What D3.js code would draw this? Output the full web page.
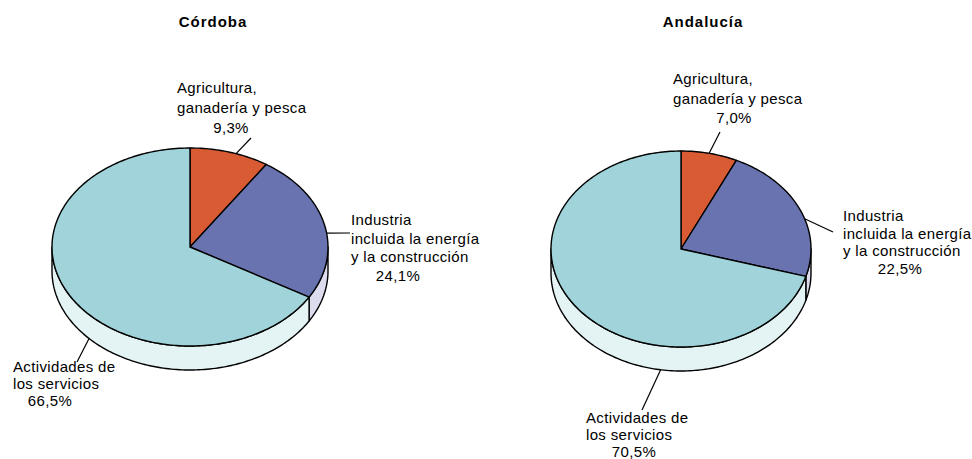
<!DOCTYPE html>
<html>
<head>
<meta charset="utf-8">
<script src="https://cdn.jsdelivr.net/npm/d3@7"></script>
<style>
  body { margin: 0; background: #fff; }
  svg { display: block; font-family: "Liberation Sans", Arial, Helvetica, sans-serif; }
</style>
</head>
<body>
<div class="graph"></div>
<script>
// datos
const regiones = ["Córdoba", "Andalucía"];
const sectores = [
  ["Agricultura,", "ganadería y pesca"],
  ["Industria", "incluida la energía", "y la construcción"],
  ["Actividades de", "los servicios"]
];
const valoresCordoba = [9.3, 24.1, 66.5];
const valoresAndalucia = [7.0, 22.5, 70.5];

const colores = ["#d95b33", "#6873b0", "#a0d4da"];
const coloresLado = ["#f2cfc2", "#dcdcee", "#e4f3f4"];

const width = 972, height = 459;

// formato con coma decimal
const es = d3.formatLocale({decimal: ",", thousands: ".", grouping: [3], currency: ["", "€"]});
const pct = es.format(".1f");

// posiciones de cada tarta y sus etiquetas
const layout = [
  {cx: 190, cy: 247, rx: 138, ry: 99, depth: 24, titleX: 213,
   labels: [
     {x: 177, y: 93, lh: 19.5, px: 231, py: 133, ang: 19.5, bottom: false, lx: 251, ly: 138},
     {x: 351, y: 225, lh: 18.5, px: 398, py: 281, ang: 82, bottom: false, lx: 350, ly: 233},
     {x: 13, y: 372, lh: 17, px: 50, py: 406, ang: 227, bottom: true, lx: 77, ly: 362}
   ]},
  {cx: 681, cy: 249, rx: 130, ry: 98, depth: 24, titleX: 703,
   labels: [
     {x: 673, y: 84, lh: 19.5, px: 734, py: 123, ang: 12.5, bottom: false, lx: 720, ly: 132},
     {x: 843, y: 221, lh: 17.5, px: 900, py: 274, ang: 72, bottom: false, lx: 833, ly: 232},
     {x: 586, y: 423, lh: 17, px: 634, py: 457, ang: 189, bottom: true, lx: 642, ly: 410}
   ]}
];
const valores = [valoresCordoba, valoresAndalucia];

const svg = d3.select(".graph").append("svg")
  .attr("width", width)
  .attr("height", height);

const pie = d3.pie().sort(null).startAngle(0).endAngle(2 * Math.PI);
const line = d3.line();

function drawPie(idx) {
  const L = layout[idx];
  const data = valores[idx];
  const g = svg.append("g");

  // punto en la elipse, angulo en sentido horario desde arriba
  function pt(a, dy) {
    return [L.cx + L.rx * Math.sin(a), L.cy + (dy || 0) - L.ry * Math.cos(a)];
  }
  function arcPts(a0, a1, dy) {
    const n = Math.max(2, Math.ceil(Math.abs(a1 - a0) / 0.02));
    return d3.range(n + 1).map(i => pt(a0 + (a1 - a0) * i / n, dy));
  }

  const arcs = pie(data);

  // lados (solo la mitad delantera)
  arcs.forEach((d, i) => {
    const s = Math.max(d.startAngle, Math.PI / 2);
    const e = Math.min(d.endAngle, 3 * Math.PI / 2);
    if (e <= s) return;
    const pts = arcPts(s, e, 0).concat(arcPts(e, s, L.depth));
    g.append("path")
      .attr("d", line(pts) + "Z")
      .attr("fill", coloresLado[i])
      .attr("stroke", "#000")
      .attr("stroke-width", 1.4)
      .attr("stroke-linejoin", "round");
  });

  // cara superior
  arcs.forEach((d, i) => {
    const pts = [[L.cx, L.cy]].concat(arcPts(d.startAngle, d.endAngle, 0));
    g.append("path")
      .attr("d", line(pts) + "Z")
      .attr("fill", colores[i])
      .attr("stroke", "#000")
      .attr("stroke-width", 1.4)
      .attr("stroke-linejoin", "round");
  });

  // titulo
  svg.append("text")
    .attr("x", L.titleX)
    .attr("y", 27)
    .attr("text-anchor", "middle")
    .attr("font-size", 15)
    .attr("font-weight", "bold")
    .attr("letter-spacing", 1)
    .text(regiones[idx]);

  // etiquetas
  L.labels.forEach((lb, i) => {
    const a = lb.ang * Math.PI / 180;
    const p0 = pt(a, lb.bottom ? L.depth : 0);
    svg.append("line")
      .attr("x1", p0[0]).attr("y1", p0[1])
      .attr("x2", lb.lx).attr("y2", lb.ly)
      .attr("stroke", "#000")
      .attr("stroke-width", 1.2);

    const t = svg.append("g")
      .attr("font-size", 15)
      .attr("letter-spacing", 0.35)
      .attr("fill", "#000");
    sectores[i].forEach((s, j) => {
      t.append("text")
        .attr("x", lb.x)
        .attr("y", lb.y + j * lb.lh)
        .text(s);
    });
    t.append("text")
      .attr("x", lb.px)
      .attr("y", lb.py)
      .attr("text-anchor", "middle")
      .text(pct(data[i]) + "%");
  });
}

drawPie(0);
drawPie(1);
</script>
</body>
</html>
